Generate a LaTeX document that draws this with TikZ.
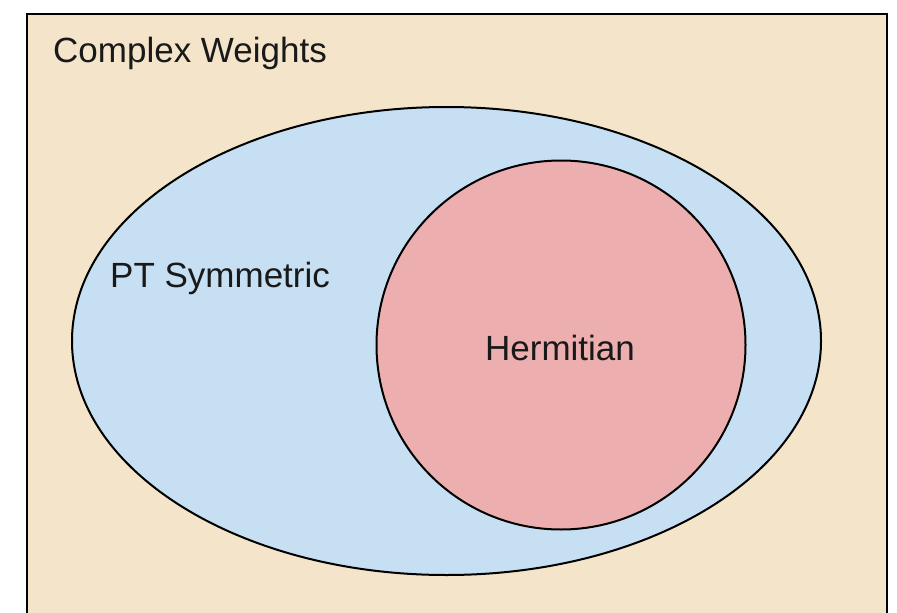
\documentclass[tikz,border=0pt]{standalone}
\usepackage{fontspec}
\setmainfont{Liberation Sans}
\usetikzlibrary{shapes.geometric}
\definecolor{bgbeige}{RGB}{243,228,202}
\definecolor{ptblue}{RGB}{199,223,243}
\definecolor{herpink}{RGB}{236,174,174}
\tikzset{
  label/.style={inner sep=0pt, font=\fontsize{35}{42}\selectfont, text=black!90},
  region/.style={draw=black, line width=2pt, inner sep=0pt}
}
\begin{document}
\begin{tikzpicture}[x=1pt,y=-1pt]
  \useasboundingbox (0,0) rectangle (897,613);
  \clip (0,0) rectangle (897,613);
  \fill[white] (0,0) rectangle (897,613);
  \draw[fill=bgbeige, line width=2.2pt] (27,14) rectangle (887,640);
  \node[region, ellipse, fill=ptblue, minimum width=749pt, minimum height=468pt] (pt) at (446.5,341) {};
  \node[region, circle, fill=herpink, minimum size=369pt] (herm) at (561,345) {};
  \node[label, anchor=base west] (cw) at (53,62) {Complex Weights};
  \node[label, anchor=base west] (pts) at (110,287) {PT Symmetric};
  \node[label, anchor=base] (ht) at (560,360) {Hermitian};
\end{tikzpicture}
\end{document}
